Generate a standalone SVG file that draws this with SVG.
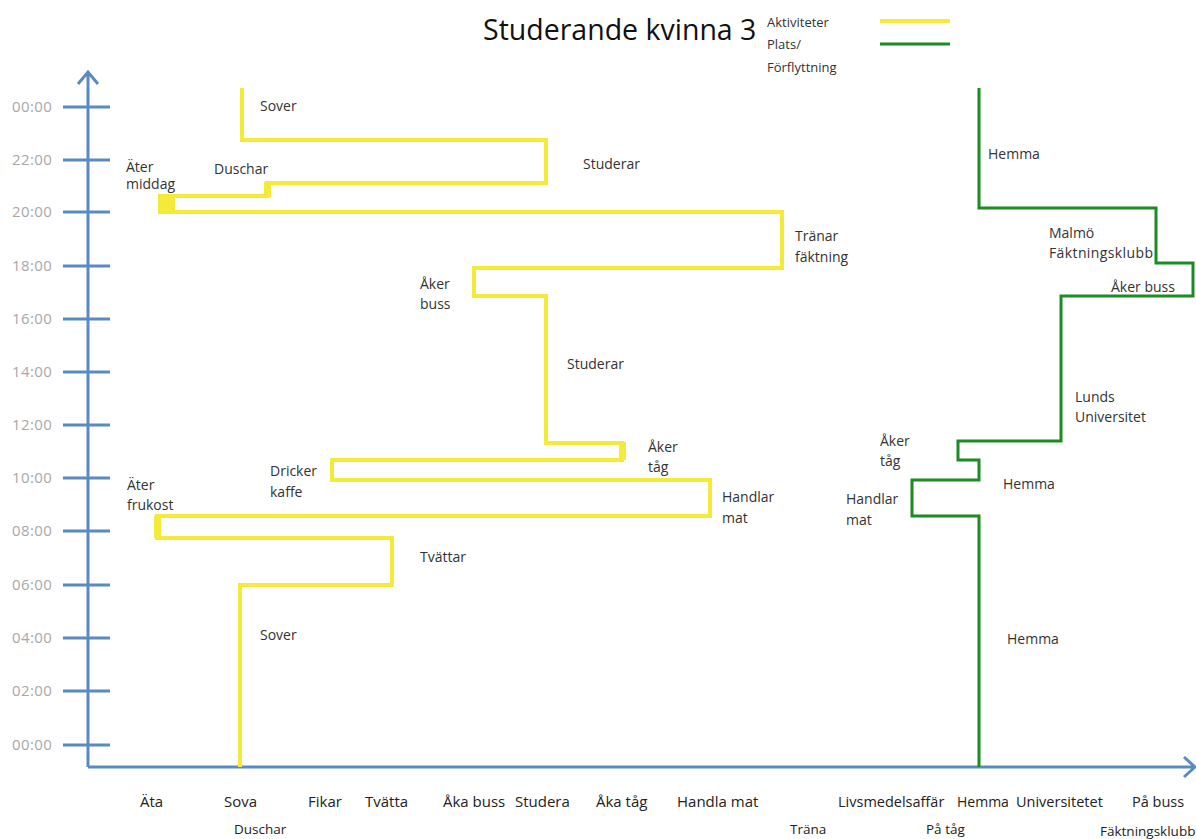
<svg xmlns="http://www.w3.org/2000/svg" width="1196" height="839" viewBox="0 0 1196 839">
<style>
text{font-family:"Open Sans","Noto Sans",sans-serif;fill:#333}
.lb{font-size:14px}
.ax{font-size:15px}
.ax text,.ax2 text{fill:#222}
.ax2{font-size:13.5px}
.tk{font-size:15px;letter-spacing:0.4px}
.tk text{fill:#a8a8a8}
.axis{stroke:#5a8ac4;stroke-width:3;fill:none}
.tick{stroke:#5a8ac4;stroke-width:3}
.yel{stroke:#f3ea3a;stroke-width:4;fill:none;stroke-linejoin:miter}
.grn{stroke:#1a8c22;stroke-width:3;fill:none}
</style>
<rect width="1196" height="839" fill="#fff"/>
<text x="483" y="40" style="font-size:28.5px;fill:#111">Studerande kvinna 3</text>
<g id="legend">
<text x="767" y="27" style="font-size:13px">Aktiviteter</text>
<text x="767" y="49" style="font-size:13px">Plats/</text>
<text x="767" y="72" style="font-size:13px">Förflyttning</text>
<line x1="880" y1="21" x2="950" y2="21" class="yel"/>
<line x1="880" y1="44" x2="950" y2="44" class="grn"/>
</g>
<g id="axes">
<path class="axis" d="M88,767 V72 M78,84 L88,72 L98,84 M88,767 H1194 M1184,757 L1195,767 L1184,777"/>
<g class="tick">
<line x1="63" y1="107" x2="110" y2="107"/><line x1="63" y1="160" x2="110" y2="160"/>
<line x1="63" y1="212" x2="110" y2="212"/><line x1="63" y1="266" x2="110" y2="266"/>
<line x1="63" y1="319" x2="110" y2="319"/><line x1="63" y1="372" x2="110" y2="372"/>
<line x1="63" y1="425" x2="110" y2="425"/><line x1="63" y1="478" x2="110" y2="478"/>
<line x1="63" y1="531" x2="110" y2="531"/><line x1="63" y1="585" x2="110" y2="585"/>
<line x1="63" y1="638" x2="110" y2="638"/><line x1="63" y1="691" x2="110" y2="691"/>
<line x1="63" y1="745" x2="110" y2="745"/>
</g>
<g class="tk">
<text x="12" y="112">00:00</text><text x="12" y="165">22:00</text>
<text x="12" y="217">20:00</text><text x="12" y="271">18:00</text>
<text x="12" y="324">16:00</text><text x="12" y="377">14:00</text>
<text x="12" y="430">12:00</text><text x="12" y="483">10:00</text>
<text x="12" y="536">08:00</text><text x="12" y="590">06:00</text>
<text x="12" y="643">04:00</text><text x="12" y="696">02:00</text>
<text x="12" y="750">00:00</text>
</g>
<g class="ax">
<text x="140" y="807">Äta</text><text x="224" y="807">Sova</text>
<text x="308" y="807">Fikar</text><text x="365" y="807">Tvätta</text>
<text x="443" y="807">Åka buss</text><text x="515" y="807">Studera</text>
<text x="596" y="807">Åka tåg</text><text x="677" y="807">Handla mat</text>
<text x="838" y="807" style="font-size:14.5px">Livsmedelsaffär</text><text x="957" y="807" style="font-size:14px">Hemma</text>
<text x="1016" y="807" style="font-size:14.5px">Universitetet</text><text x="1132" y="807" style="font-size:14.5px">På buss</text>
</g>
<g class="ax2">
<text x="234" y="834">Duschar</text><text x="790" y="834">Träna</text>
<text x="926" y="834">På tåg</text><text x="1100" y="836">Fäktningsklubb</text>
</g>
</g>
<g id="connectors">
<path class="yel" d="M240,767 V585 H392 V538 H157 V516 H710 V480 H332 V460 H622 V443 H546 V296 H474 V268 H782 V212 H160 V196 H267 V183 H546 V140 H242 V88"/>
<rect x="158" y="194" width="17" height="19" fill="#f3ea3a"/>
<rect x="264" y="182" width="7" height="15" fill="#f3ea3a"/>
<rect x="154" y="516" width="7" height="22" fill="#f3ea3a"/>
<rect x="619" y="442" width="7" height="18" fill="#f3ea3a"/>
<path class="grn" d="M979,767 V516 H912 V480 H979 V460 H958 V441 H1061 V296 H1193 V263 H1156 V208 H979 V88"/>
</g>
<g id="labels" class="lb">
<text x="260" y="111">Sover</text>
<text x="583" y="169">Studerar</text>
<text x="126" y="172">Äter</text><text x="126" y="189">middag</text>
<text x="214" y="174">Duschar</text>
<text x="795" y="241">Tränar</text><text x="795" y="262">fäktning</text>
<text x="420" y="289">Åker</text><text x="420" y="309">buss</text>
<text x="567" y="369">Studerar</text>
<text x="648" y="452">Åker</text><text x="648" y="472">tåg</text>
<text x="270" y="476">Dricker</text><text x="270" y="497">kaffe</text>
<text x="722" y="502">Handlar</text><text x="722" y="523">mat</text>
<text x="127" y="490">Äter</text><text x="127" y="510">frukost</text>
<text x="420" y="562">Tvättar</text>
<text x="260" y="640">Sover</text>
<text x="988" y="159">Hemma</text>
<text x="1049" y="238">Malmö</text><text x="1049" y="258" textLength="104">Fäktningsklubb</text>
<text x="1111" y="292">Åker buss</text>
<text x="1075" y="402">Lunds</text><text x="1075" y="422">Universitet</text>
<text x="880" y="446">Åker</text><text x="880" y="466">tåg</text>
<text x="1003" y="489">Hemma</text>
<text x="846" y="504">Handlar</text><text x="846" y="525">mat</text>
<text x="1007" y="644">Hemma</text>
</g>
</svg>
